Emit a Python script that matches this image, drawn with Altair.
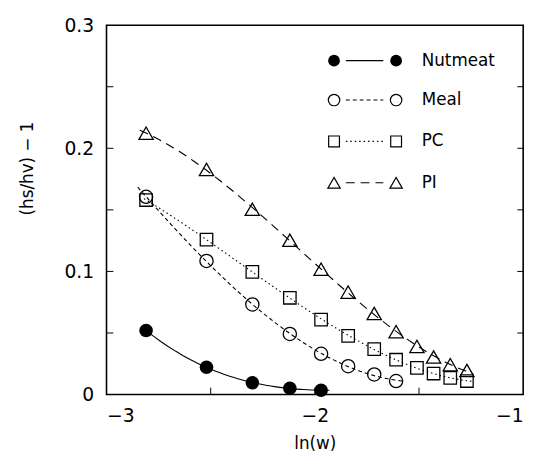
import altair as alt
import pandas as pd

# ---- data ----
ln_w = [-2.81, -2.52, -2.30, -2.12, -1.97, -1.84, -1.715, -1.61, -1.51, -1.43, -1.35, -1.27]
nutmeat = [0.0520, 0.0222, 0.0096, 0.0051, 0.0035]
meal = [0.1606, 0.1085, 0.0732, 0.0492, 0.0331, 0.0230, 0.0163, 0.0110]
pc = [0.1580, 0.1259, 0.0997, 0.0786, 0.0609, 0.0476, 0.0369, 0.0283, 0.0217, 0.0171, 0.0136, 0.0110]
pi = [0.2123, 0.1828, 0.1505, 0.1253, 0.1018, 0.0832, 0.0658, 0.0511, 0.0391, 0.0305, 0.0243, 0.0195]

series_names = ["Nutmeat", "Meal", "PC", "PI"]
series_values = [nutmeat, meal, pc, pi]
fit_extents = [[-2.81, -1.93], [-2.85, -1.58], [-2.82, -1.24], [-2.84, -1.24]]

x_tick_values = [-3, -2, -1]
y_tick_values = [0, 0.1, 0.2, 0.3]
x_minor = [-2.5, -2.0, -1.5]
y_minor = [0.05, 0.1, 0.15, 0.2, 0.25]

# ---- styles ----
FONT = "DejaVu Sans"
W, H = 423, 375
shapes = ["circle", "circle", "square", "triangle-up"]
filled = [True, False, False, False]
sizes = [190, 180, 160, 210]
dashes = [None, [4, 3], [1.5, 3], [9, 6]]
legend_y = [36, 76, 118, 160]

xs = alt.Scale(domain=[-3, -1], nice=False, zero=False)
ys = alt.Scale(domain=[0, 0.3], nice=False, zero=False)
xaxis = alt.Axis(values=x_tick_values, ticks=False, grid=False, domain=False,
                 labelExpr="replace(format(datum.value, 'd'), '-', '\u2212')",
                 labelPadding=12, labelFontSize=19, title="ln(w)", titleFontSize=17,
                 titleY=42, titleBaseline="top")
yaxis = alt.Axis(values=y_tick_values, ticks=False, grid=False, domain=False,
                 labelExpr="datum.value == 0 ? '0' : format(datum.value, '.1f')",
                 labelPadding=13, labelFontSize=19, title="(hs/hv) \u2212 1", titleFontSize=17,
                 titleX=-80, titleY=145, titleAngle=270, titleAlign="center",
                 titleBaseline="middle")
X = alt.X("x:Q", scale=xs, axis=xaxis)
Y = alt.Y("y:Q", scale=ys, axis=yaxis)

layers = []
for name, vals, shp, fil, sz, dsh, ext, ly in zip(series_names, series_values, shapes, filled,
                                                  sizes, dashes, fit_extents, legend_y):
    df = pd.DataFrame({"x": ln_w[:len(vals)], "y": vals})
    line_kw = dict(color="black", strokeWidth=1.1)
    if dsh:
        line_kw["strokeDash"] = dsh
    line = alt.Chart(df).transform_regression(
        "x", "y", method="poly", order=3, extent=ext
    ).mark_line(**line_kw).encode(x=X, y=Y)
    pts = alt.Chart(df).mark_point(
        shape=shp, filled=fil, size=sz, color="black", strokeWidth=1.3, opacity=1
    ).encode(x=X, y=Y)
    layers += [line, pts]

    # legend entry
    leg_src = pd.DataFrame({"series": [name]})
    rule_kw = dict(color="black", strokeWidth=1.1)
    if dsh:
        rule_kw["strokeDash"] = dsh
    layers.append(alt.Chart(leg_src).mark_rule(**rule_kw).encode(
        x=alt.value(243), x2=alt.value(281), y=alt.value(ly)))
    for lx in (231, 294):
        layers.append(alt.Chart(leg_src).mark_point(
            shape=shp, filled=fil, size=sz * 0.75, color="black", strokeWidth=1.2,
            opacity=1).encode(x=alt.value(lx), y=alt.value(ly)))
    layers.append(alt.Chart(leg_src).mark_text(
        align="left", baseline="middle", font=FONT, fontSize=17, color="black"
    ).encode(x=alt.value(320), y=alt.value(ly), text="series:N"))

# inward minor ticks
tx = pd.DataFrame({"x": x_minor})
ty = pd.DataFrame({"y": y_minor})
layers.append(alt.Chart(tx).mark_rule(color="black", strokeWidth=1).encode(
    x=X, y=alt.value(H), y2=alt.value(H - 7)))
layers.append(alt.Chart(ty).mark_rule(color="black", strokeWidth=1).encode(
    y=Y, x=alt.value(0), x2=alt.value(7)))
layers.append(alt.Chart(ty).mark_rule(color="black", strokeWidth=1).encode(
    y=Y, x=alt.value(W), x2=alt.value(W - 6)))

chart = alt.layer(*layers).properties(
    width=W, height=H,
    autosize=alt.AutoSizeParams(type="none"),
    padding={"left": 100, "top": 14, "right": 12, "bottom": 63},
    background="white",
).configure_view(
    stroke="black", strokeWidth=1.6
).configure_axis(
    labelFont=FONT, titleFont=FONT, labelColor="black", titleColor="black",
    titleFontWeight="normal"
)

chart.save("out.html", embed_options={"renderer": "svg", "actions": False})
